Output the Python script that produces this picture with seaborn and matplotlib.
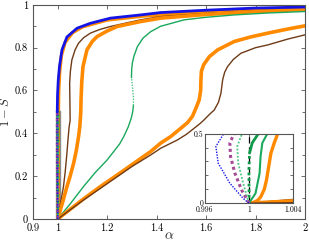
import numpy as np
import matplotlib
matplotlib.use("Agg")
import matplotlib.pyplot as plt
import seaborn as sns
from matplotlib.patches import Rectangle

# ---- data (alpha, 1-S) ----
# blue: unstable branch (dotted, only visible in inset) + stable branch
blue_dot_a = [1.0, 0.99948, 0.99827, 0.99721, 0.9970, 0.99766, 0.9978]
blue_dot_y = [0.0, 0.034, 0.143, 0.288, 0.408, 0.493, 0.5]
blue_a = [0.9978, 0.999, 1.002, 1.007, 1.017, 1.037, 1.078, 1.132, 1.213, 1.335, 1.416, 1.6, 1.8, 2.0]
blue_y = [0.5, 0.58, 0.65, 0.714, 0.79, 0.85, 0.891, 0.914, 0.938, 0.953, 0.964, 0.975, 0.985, 0.99]

# purple dotted (inset)
purple_a = [1.0, 0.99934, 0.99873, 0.99833, 0.99827, 0.99861, 0.9987]
purple_y = [0.0, 0.094, 0.215, 0.336, 0.433, 0.493, 0.5]

# light green dotted (inset)
lgreen_a = [1.0, 0.99948, 0.99903, 0.99894, 0.99934, 0.9994]
lgreen_y = [0.0, 0.143, 0.288, 0.408, 0.493, 0.5]

# dark green thick (inset): dotted lower part, solid upper part
dgreen_dot_a = [1.0, 1.00002, 1.0, 1.00006]
dgreen_dot_y = [0.0, 0.046, 0.24, 0.36]
dgreen_a = [1.00006, 1.0003, 1.00086]
dgreen_y = [0.36, 0.433, 0.5]

# medium green (inset)
mgreen_a = [1.0, 1.0006, 1.00097, 1.00106, 1.00122, 1.00168]
mgreen_y = [0.0, 0.07, 0.215, 0.336, 0.433, 0.5]

# orange close to the blue curve
or0_a = [1.0, 1.0004, 1.0008, 1.00108, 1.0014, 1.0016, 1.00185, 1.002, 1.0023, 1.00262,
         1.004, 1.008, 1.015, 1.03, 1.06, 1.1, 1.2, 1.35, 1.6, 1.8, 2.0]
or0_y = [0.0, 0.005, 0.02, 0.046, 0.1, 0.167, 0.288, 0.36, 0.433, 0.5,
         0.6, 0.69, 0.765, 0.825, 0.87, 0.897, 0.929, 0.948, 0.965, 0.975, 0.982]

# brown, first
br1_a = [1.0, 1.012, 1.023, 1.03, 1.037, 1.042, 1.046, 1.05, 1.049, 1.048, 1.051, 1.057,
         1.07, 1.084, 1.105, 1.132, 1.17, 1.213, 1.335, 1.416, 1.6, 1.8, 2.0]
br1_y = [0.0, 0.08, 0.151, 0.22, 0.308, 0.38, 0.431, 0.46, 0.55, 0.634, 0.69, 0.743,
         0.79, 0.821, 0.847, 0.868, 0.885, 0.899, 0.93, 0.945, 0.96, 0.972, 0.982]

# orange, first thick
or1_a = [1.0, 1.02, 1.037, 1.05, 1.064, 1.075, 1.084, 1.089, 1.091, 1.093, 1.094, 1.097,
         1.102, 1.118, 1.14, 1.159, 1.2, 1.24, 1.335, 1.416, 1.6, 1.8, 2.0]
or1_y = [0.0, 0.08, 0.151, 0.2, 0.26, 0.32, 0.385, 0.43, 0.463, 0.5, 0.556, 0.64,
         0.712, 0.79, 0.83, 0.852, 0.878, 0.899, 0.922, 0.938, 0.955, 0.968, 0.978]

# green thin: lower branch, unstable (dotted), upper branch
gr_lo_a = [1.0, 1.05, 1.104, 1.15, 1.2, 1.25, 1.267, 1.285, 1.297, 1.303, 1.306]
gr_lo_y = [0.0, 0.07, 0.151, 0.215, 0.276, 0.35, 0.385, 0.43, 0.47, 0.5, 0.53]
gr_mid_a = [1.306, 1.306, 1.302, 1.298]
gr_mid_y = [0.53, 0.57, 0.62, 0.66]
gr_hi_a = [1.298, 1.299, 1.302, 1.308, 1.322, 1.345, 1.376, 1.416, 1.511, 1.6, 1.714, 1.85, 2.0]
gr_hi_y = [0.66, 0.70, 0.73, 0.76, 0.805, 0.845, 0.875, 0.9, 0.93, 0.942, 0.953, 0.962, 0.969]

# orange, second thick
or2_a = [1.0, 1.05, 1.1, 1.172, 1.24, 1.308, 1.376, 1.416, 1.457, 1.498, 1.525, 1.545,
         1.558, 1.572, 1.578, 1.579, 1.581, 1.59, 1.613, 1.647, 1.714, 1.78, 1.85, 1.93, 2.0]
or2_y = [0.0, 0.045, 0.09, 0.151, 0.205, 0.26, 0.315, 0.354, 0.385, 0.424, 0.45, 0.48,
         0.515, 0.556, 0.6, 0.65, 0.69, 0.72, 0.758, 0.79, 0.829, 0.85, 0.868, 0.887, 0.902]

# brown, second
br2_a = [1.0, 1.1, 1.2, 1.3, 1.376, 1.416, 1.484, 1.52, 1.552, 1.575, 1.592, 1.615, 1.633,
         1.65, 1.66, 1.667, 1.675, 1.687, 1.71, 1.741, 1.8, 1.85, 1.93, 2.0]
br2_y = [0.0, 0.085, 0.165, 0.245, 0.299, 0.33, 0.369, 0.395, 0.424, 0.445, 0.463, 0.49, 0.509,
         0.545, 0.587, 0.65, 0.685, 0.712, 0.745, 0.774, 0.8, 0.813, 0.84, 0.86]

# ---- styling ----
sns.set_theme(style="ticks")
plt.rcParams["font.family"] = "serif"
plt.rcParams["font.serif"] = ["cmr10", "DejaVu Serif"]
plt.rcParams["mathtext.fontset"] = "cm"
plt.rcParams["axes.formatter.use_mathtext"] = True

BLUE = "#1414e6"
ORANGE = "#ff8a00"
BROWN = "#6e3b17"
GREEN = "#19a85c"
DGREEN = "#0f9a4a"
LGREEN = "#4cc585"
PURPLE = "#a54a95"
GREY = "#8c8c8c"
DOT = (0, (1, 1))


def draw_curves(ax):
    kw = dict(ax=ax, sort=False, estimator=None, legend=False)
    sns.lineplot(x=or0_a, y=or0_y, color=ORANGE, lw=2.4, **kw)
    sns.lineplot(x=br1_a, y=br1_y, color=BROWN, lw=1.0, **kw)
    sns.lineplot(x=or1_a, y=or1_y, color=ORANGE, lw=2.6, **kw)
    sns.lineplot(x=gr_lo_a, y=gr_lo_y, color=GREEN, lw=1.0, **kw)
    sns.lineplot(x=gr_mid_a, y=gr_mid_y, color=LGREEN, lw=1.0, ls=DOT, **kw)
    sns.lineplot(x=gr_hi_a, y=gr_hi_y, color=GREEN, lw=1.0, **kw)
    sns.lineplot(x=or2_a, y=or2_y, color=ORANGE, lw=2.6, **kw)
    sns.lineplot(x=br2_a, y=br2_y, color=BROWN, lw=1.0, **kw)
    sns.lineplot(x=mgreen_a, y=mgreen_y, color=GREEN, lw=1.5, **kw)
    sns.lineplot(x=dgreen_dot_a, y=dgreen_dot_y, color=DGREEN, lw=2.0, ls=DOT, **kw)
    sns.lineplot(x=dgreen_a, y=dgreen_y, color=DGREEN, lw=2.0, **kw)
    sns.lineplot(x=lgreen_a, y=lgreen_y, color=LGREEN, lw=1.3, ls=DOT, **kw)
    sns.lineplot(x=purple_a, y=purple_y, color=PURPLE, lw=2.2, ls=DOT, **kw)
    sns.lineplot(x=blue_dot_a, y=blue_dot_y, color=BLUE, lw=1.0, ls=DOT, **kw)
    sns.lineplot(x=blue_a, y=blue_y, color=BLUE, lw=2.0, **kw)


def style_axes(ax, fs):
    for s in ax.spines.values():
        s.set_color("#555555")
        s.set_linewidth(0.8)
    ax.tick_params(which="both", direction="in", top=True, right=True,
                   colors="#555555", labelcolor="black", labelsize=fs, width=0.6)
    ax.tick_params(which="major", length=3)
    ax.tick_params(which="minor", length=2)


fig = plt.figure(figsize=(3.09, 2.43), dpi=100)
ax = fig.add_axes([0.107, 0.099, 0.880, 0.881])

ax.add_patch(Rectangle((0.996, 0), 0.008, 0.5, facecolor=GREY, edgecolor=GREY, lw=2.4, zorder=1))
draw_curves(ax)

ax.set_xlim(0.9, 2.0)
ax.set_ylim(0, 1)
ax.set_xticks([0.9, 1, 1.2, 1.4, 1.6, 1.8, 2])
ax.set_xticklabels(["0.9", "1", "1.2", "1.4", "1.6", "1.8", "2"])
ax.set_yticks([0, 0.2, 0.4, 0.6, 0.8, 1])
ax.set_yticklabels(["0", "0.2", "0.4", "0.6", "0.8", "1"])
ax.set_yticks([0.1, 0.3, 0.5, 0.7, 0.9], minor=True)
ax.set_xlabel(r"$\alpha$", fontsize=10, labelpad=-2)
ax.set_ylabel(r"$1-S$", fontsize=9, labelpad=2)
style_axes(ax, 7.5)

# inset
axi = fig.add_axes([0.663, 0.164, 0.285, 0.286])
draw_curves(axi)
axi.plot([1, 1], [0, 0.5], color="black", lw=0.9, ls=(0, (5, 3)), zorder=1)
axi.set_xlim(0.996, 1.004)
axi.set_ylim(0, 0.5)
axi.set_xticks([0.996, 1, 1.004])
axi.set_xticklabels(["0.996", "1", "1.004"])
axi.set_yticks([0, 0.5])
axi.set_yticklabels(["0", "0.5"])
axi.set_yticks([0.1, 0.2, 0.3, 0.4], minor=True)
axi.set_xlabel("")
axi.set_ylabel("")
style_axes(axi, 5.5)
axi.tick_params(axis="x", pad=1.5)
axi.tick_params(axis="y", pad=1)

fig.savefig("out.png", dpi=100)
